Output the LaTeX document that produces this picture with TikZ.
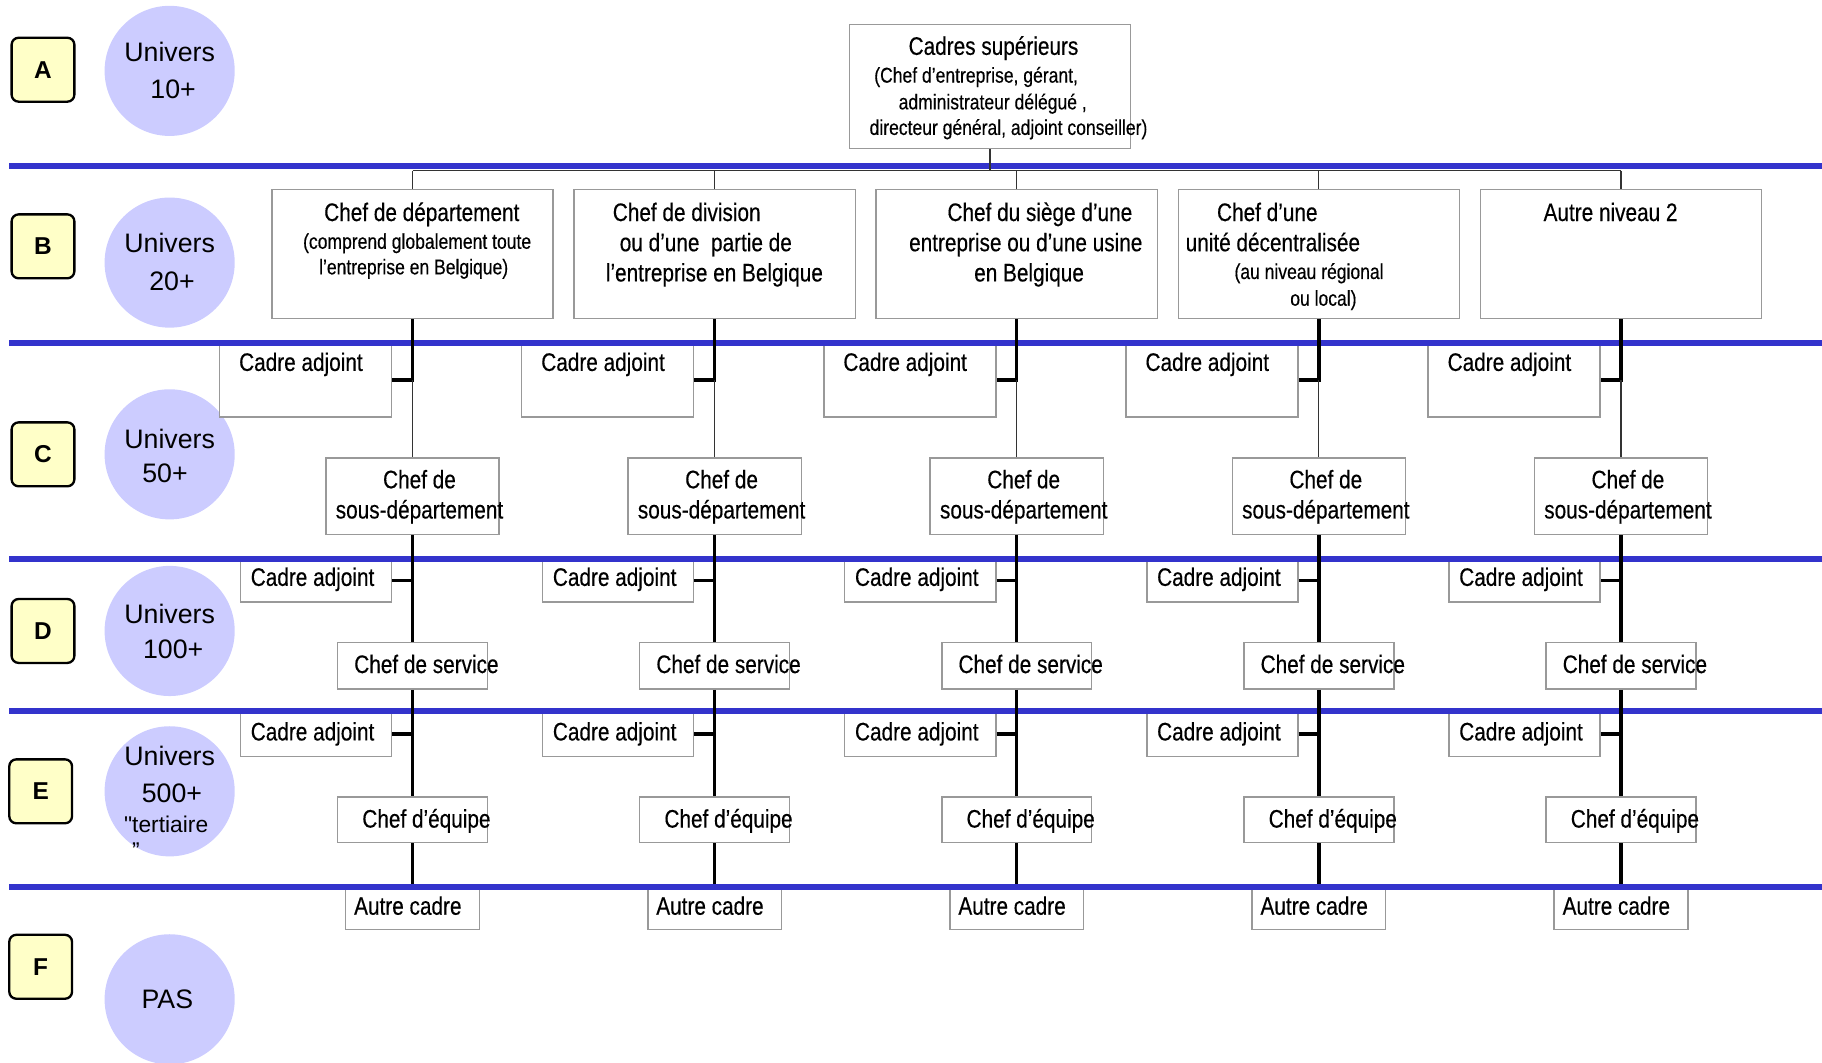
\documentclass[tikz,border=0pt]{standalone}
\usepackage{fontspec}
\setmainfont{Liberation Sans}
\newfontfamily\uq{Liberation Sans}
\newfontfamily\nar[FakeStretch=0.82,FakeBold=0.35]{Liberation Sans}
\definecolor{bandblue}{HTML}{3333CC}
\definecolor{univblue}{HTML}{CCCCFF}
\definecolor{lettery}{HTML}{FFFFC8}
\definecolor{boxgray}{HTML}{999999}
\begin{document}
\begin{tikzpicture}[x=0.5pt,y=-0.5pt,
  box/.style={draw=boxgray, line width=0.6pt, fill=white, inner sep=0pt},
  letterbox/.style={draw=black, line width=1pt, rounded corners=3pt, fill=lettery, minimum width=27pt, minimum height=27.5pt, inner sep=0pt, font=\bfseries\fontsize{10.5}{12}\selectfont},
  univ/.style={circle, fill=univblue, minimum size=56pt, inner sep=0pt},
  utxt/.style={inner sep=0pt, font=\fontsize{11.5}{13}\selectfont, text height=9.2pt, text depth=1.6pt},
  utxts/.style={inner sep=0pt, font=\uq\fontsize{9.8}{11}\selectfont, text height=7.8pt, text depth=1.4pt},
  big/.style={inner sep=0pt, font=\nar\fontsize{10.9}{13}\selectfont, text height=8.7pt, text depth=1.5pt},
  small/.style={inner sep=0pt, font=\nar\fontsize{9.2}{11}\selectfont, text height=7.4pt, text depth=1.3pt},
  thickc/.style={line width=1.5pt, black},
  thinc/.style={line width=0.5pt, black!80},
  band/.style={line width=2.5pt, bandblue}]
\useasboundingbox (0,0) rectangle (1568,914);
% level labels and circles
\foreach \n/\L/\lx/\ly/\cy in {la/A/37/60/61, lb/B/37/212/226, lc/C/37/391/391, ld/D/37/543/543, le/E/35/681/681, lf/F/35/832/860}{
  \node[letterbox] (\n) at (\lx,\ly) {\L};
  \node[univ] (c\n) at (146,\cy) {};
}
\node[utxt] (ua1) at (146,45) {Univers};
\node[utxt] (ua2) at (149,77) {10+};
\node[utxt] (ub1) at (146,210) {Univers};
\node[utxt] (ub2) at (148,242) {20+};
\node[utxt] (uc1) at (146,378) {Univers};
\node[utxt] (uc2) at (142,408) {50+};
\node[utxt] (ud1) at (146,529) {Univers};
\node[utxt] (ud2) at (149,559) {100+};
\node[utxt] (ue1) at (146,651) {Univers};
\node[utxt] (ue2) at (148,683) {500+};
\node[utxts] (ue3) at (143,710) {"tertiaire};
\node[utxts] (ue4) at (117,732) {”};
\node[utxt] (uf1) at (144,860) {PAS};
% top box
\node[box, minimum width=121pt, minimum height=53.5pt] (top) at (852,74.5) {};
% boxes per column
\foreach \i/\x in {1/355,2/615,3/875,4/1135,5/1395}{
  \node[box, minimum width=121pt, minimum height=55.5pt] (b\i) at (\x,218.5) {};
  \node[box, minimum width=74pt, minimum height=32pt] (ca\i) at (\x-92,327) {};
  \node[box, minimum width=74.5pt, minimum height=33pt] (sd\i) at (\x,427) {};
  \node[box, minimum width=65pt, minimum height=18.5pt] (cad\i) at (\x-83,499.5) {};
  \node[box, minimum width=64.5pt, minimum height=20pt] (cs\i) at (\x,573) {};
  \node[box, minimum width=65pt, minimum height=19.5pt] (cae\i) at (\x-83,631.5) {};
  \node[box, minimum width=64.5pt, minimum height=19.5pt] (ce\i) at (\x,705.5) {};
  \node[box, minimum width=57.5pt, minimum height=19.5pt] (ac\i) at (\x,780.5) {};
}
% blue bands
\foreach \y in {143,295,481,612,763}{
  \draw[band] (8,\y) -- (1568,\y);
}
% connectors
\coordinate (hl) at (852,147);
\draw[thinc] (top.south) -- (top.south |- hl);
\draw[thinc] (b1.north |- hl) -- (b5.north |- hl);
\foreach \i in {1,...,5}{
  \draw[thinc] (b\i.north |- hl) -- (b\i.north);
  \coordinate (j\i) at (b\i.south |- ca\i.east);
  \draw[thickc] (b\i.south) -- (j\i) -- (ca\i.east);
  \draw[thinc] (j\i) -- (sd\i.north);
  \draw[thickc] (sd\i.south) -- (cs\i.north);
  \draw[thickc] (cad\i.east) -- (sd\i.south |- cad\i.east);
  \draw[thickc] (cs\i.south) -- (ce\i.north);
  \draw[thickc] (cae\i.east) -- (cs\i.south |- cae\i.east);
  \draw[thickc] (ce\i.south) -- (ac\i.north);
}
% texts of the repeated boxes
\foreach \i/\x in {1/355,2/615,3/875,4/1135,5/1395}{
  \node[big] (tca\i) at (\x-96,312) {Cadre adjoint};
  \node[big] (tsda\i) at (\x+6,413) {Chef de};
  \node[big] (tsdb\i) at (\x+6,439) {sous-département};
  \node[big] (tcad\i) at (\x-86,497) {Cadre adjoint};
  \node[big] (tcs\i) at (\x+12,572) {Chef de service};
  \node[big] (tcae\i) at (\x-86,630) {Cadre adjoint};
  \node[big] (tce\i) at (\x+12,705) {Chef d’équipe};
  \node[big] (tac\i) at (\x-4,780) {Autre cadre};
}
% top box text
\node[big] (tt1) at (855,40) {Cadres supérieurs};
\node[small, anchor=west] (tt2) at (752,65) {(Chef d’entreprise, gérant,};
\node[small, anchor=west] (tt3) at (773,88) {administrateur délégué ,};
\node[small, anchor=west] (tt4) at (748,110) {directeur général, adjoint conseiller)};
% B-level texts
\node[big] (b1a) at (363,183) {Chef de département};
\node[small] (b1b) at (359,208) {(comprend globalement toute};
\node[small] (b1c) at (356,230) {l’entreprise en Belgique)};
\node[big, anchor=west] (b2a) at (527,183) {Chef de division};
\node[big, anchor=west] (b2b) at (533,209) {ou d’une\ \ partie de};
\node[big, anchor=west] (b2c) at (521,235) {l’entreprise en Belgique};
\node[big, anchor=west] (b3a) at (815,183) {Chef du siège d’une};
\node[big, anchor=west] (b3b) at (782,209) {entreprise ou d’une usine};
\node[big, anchor=west] (b3c) at (838,235) {en Belgique};
\node[big, anchor=west] (b4a) at (1047,183) {Chef d’une};
\node[big, anchor=west] (b4b) at (1020,209) {unité décentralisée};
\node[small, anchor=west] (b4c) at (1062,234) {(au niveau régional};
\node[small, anchor=west] (b4d) at (1110,257) {ou local)};
\node[big, anchor=west] (b5a) at (1328,183) {Autre niveau 2};
\end{tikzpicture}
\end{document}
